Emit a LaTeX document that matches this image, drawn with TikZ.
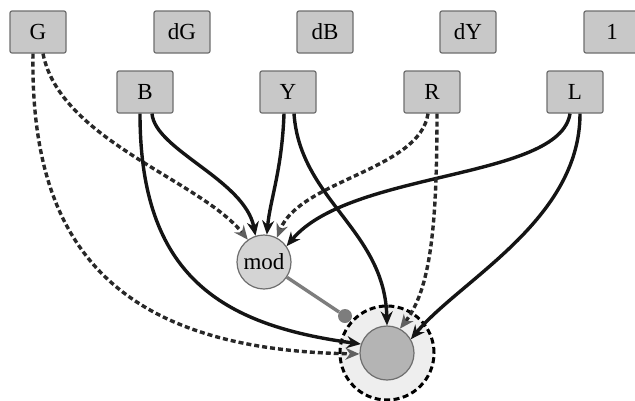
\documentclass[tikz,border=0pt]{standalone}
\usepackage{fontspec}
\setmainfont{Liberation Serif}
\usetikzlibrary{arrows.meta}
\definecolor{boxfill}{RGB}{200,200,200}
\definecolor{boxline}{RGB}{110,110,110}
\definecolor{modfill}{RGB}{212,212,212}
\definecolor{tgtfill}{RGB}{180,180,180}
\definecolor{outfill}{RGB}{238,238,238}
\definecolor{dashcol}{RGB}{40,40,40}
\definecolor{dashtip}{RGB}{95,95,95}
\definecolor{linkcol}{RGB}{125,125,125}
\tikzset{
  var/.style={draw=boxline, line width=1.2pt, fill=boxfill, rounded corners=2pt,
    minimum width=56pt, minimum height=42pt, inner sep=0pt,
    font=\fontsize{23}{26}\selectfont},
  solidedge/.style={draw=black!92, line width=3.4pt,
    -{Stealth[length=14pt,width=12pt,fill=black]}},
  dashedge/.style={draw=dashcol, line width=3.4pt, dash pattern=on 5pt off 3pt,
    -{Stealth[length=14pt,width=12pt,fill=dashtip,color=dashtip]}},
}
\begin{document}
\begin{tikzpicture}[x=1pt,y=-1pt]
\useasboundingbox (0,0) rectangle (635,400);
% outer dashed circle
\node[circle, draw=black, line width=3pt, dash pattern=on 6pt off 3.5pt,
  fill=outfill, minimum size=94pt, inner sep=0pt] (outer) at (387,353) {};
% top row
\node[var] (G)  at (38,32)  {G};
\node[var] (dG) at (182,32) {dG};
\node[var] (dB) at (325,32) {dB};
\node[var] (dY) at (468,32) {dY};
\node[var] (one) at (612,32) {1};
% second row
\node[var] (B) at (145,92) {B};
\node[var] (Y) at (288,92) {Y};
\node[var] (R) at (432,92) {R};
\node[var] (L) at (575,92) {L};
% circles
\node[circle, draw=boxline, line width=1.2pt, fill=modfill, minimum size=54pt,
  inner sep=0pt, font=\fontsize{23}{26}\selectfont] (mod) at (264,262) {mod};
\node[circle, draw=boxline, line width=1.2pt, fill=tgtfill, minimum size=54pt,
  inner sep=0pt] (tgt) at (387,353) {};
% gray link
\node[circle, fill=linkcol, minimum size=14pt, inner sep=0pt] (dot) at (345,316) {};
\draw[linkcol, line width=3.4pt] (mod) -- (dot);
% edges to mod
\draw[dashedge] ([xshift=5pt]G.south) .. controls (60,140) and (200,180) .. (mod.126);
\draw[solidedge] ([xshift=7pt]B.south) .. controls (155,150) and (245,180) .. (mod.108);
\draw[solidedge] ([xshift=-4pt]Y.south) .. controls (282,170) and (270,200) .. (mod.84);
\draw[dashedge] ([xshift=-4pt]R.south) .. controls (420,170) and (300,180) .. (mod.62);
\draw[solidedge] ([xshift=-5pt]L.south) .. controls (560,180) and (350,170) .. (mod.35);
% edges to target
\draw[dashedge] ([xshift=-5pt]G.south) .. controls (30,240) and (110,350) .. (tgt.182);
\draw[solidedge] ([xshift=-5pt]B.south) .. controls (140,275) and (220,325) .. (tgt.161);
\draw[solidedge] ([xshift=6pt]Y.south) .. controls (300,200) and (385,230) .. (tgt.90);
\draw[dashedge] ([xshift=5pt]R.south) .. controls (437,230) and (430,290) .. (tgt.62);
\draw[solidedge] ([xshift=5pt]L.south) .. controls (580,220) and (460,280) .. (tgt.30);
\end{tikzpicture}
\end{document}
